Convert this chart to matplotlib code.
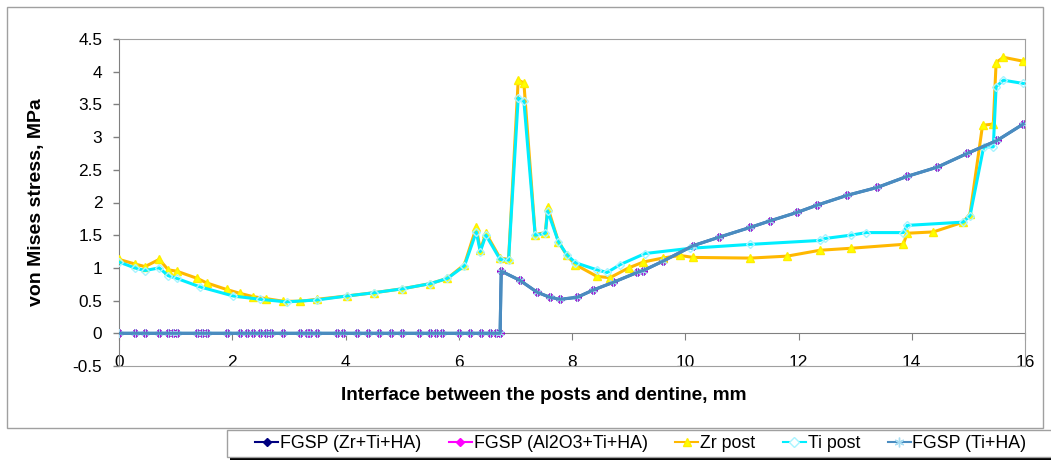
import matplotlib.pyplot as plt
from matplotlib.lines import Line2D
from matplotlib.patches import Rectangle

plt.rcParams['font.family'] = ['Liberation Sans', 'DejaVu Sans']

# Zr post
zr_x = [0.0, 0.28, 0.46, 0.71, 0.87, 1.02, 1.38, 1.55, 1.9, 2.14, 2.37, 2.6, 2.9, 3.2,
        3.5, 4.02, 4.5, 5.0, 5.5, 5.8, 6.1, 6.31, 6.38, 6.48, 6.73, 6.88, 7.05, 7.15,
        7.35, 7.53, 7.57, 7.76, 7.91, 8.06, 8.44, 8.67, 9.0, 9.26, 9.6, 9.91, 10.14,
        11.15, 11.8, 12.38, 12.92, 13.85, 13.92, 14.38, 14.91, 15.03, 15.25, 15.44,
        15.49, 15.62, 15.97]
zr_y = [1.13, 1.06, 1.02, 1.13, 0.97, 0.95, 0.84, 0.77, 0.67, 0.61, 0.56, 0.53, 0.49, 0.49,
        0.52, 0.57, 0.62, 0.68, 0.76, 0.84, 1.05, 1.62, 1.27, 1.53, 1.15, 1.13, 3.87, 3.83,
        1.51, 1.54, 1.93, 1.40, 1.19, 1.05, 0.87, 0.85, 1.00, 1.09, 1.15, 1.19, 1.16,
        1.15, 1.18, 1.27, 1.30, 1.36, 1.53, 1.55, 1.70, 1.83, 3.18, 3.20,
        4.14, 4.22, 4.16]

# Ti post
ti_x = [0.0, 0.28, 0.46, 0.71, 0.87, 1.02, 1.43, 2.02, 2.49, 2.96, 3.5, 4.02, 4.5, 5.0,
        5.5, 5.8, 6.1, 6.31, 6.38, 6.48, 6.73, 6.88, 7.05, 7.15, 7.35, 7.53, 7.57, 7.76,
        7.91, 8.06, 8.44, 8.62, 8.85, 9.29, 10.09, 11.15, 12.38, 12.47, 12.92, 13.2,
        13.85, 13.92, 14.91, 15.03, 15.27, 15.44, 15.49, 15.62, 15.97]
ti_y = [1.09, 1.00, 0.96, 1.00, 0.88, 0.84, 0.71, 0.57, 0.52, 0.48, 0.51, 0.57, 0.62, 0.68,
        0.76, 0.84, 1.03, 1.55, 1.25, 1.50, 1.13, 1.12, 3.60, 3.55, 1.50, 1.53, 1.87, 1.40,
        1.20, 1.08, 0.97, 0.93, 1.05, 1.22, 1.30, 1.36, 1.42, 1.45, 1.50, 1.54,
        1.54, 1.65, 1.70, 1.80, 2.85, 2.85, 3.77, 3.87, 3.82]

# FGSP (the three graded posts give practically the same curve)
fgsp_x = [0.0, 0.28, 0.46, 0.71, 0.87, 0.95, 1.02, 1.38, 1.47, 1.55, 1.9, 2.14, 2.26, 2.37,
          2.49, 2.6, 2.69, 2.9, 3.2, 3.32, 3.37, 3.5, 3.85, 3.96, 4.2, 4.4, 4.6, 4.8, 5.0,
          5.3, 5.5, 5.6, 5.7, 6.0, 6.2, 6.4, 6.55, 6.65, 6.73, 6.75, 7.08, 7.38, 7.61,
          7.79, 8.09, 8.37, 8.73, 9.15, 9.26, 9.6, 10.14, 10.6, 11.15, 11.5, 11.98, 12.33,
          12.86, 13.39, 13.92, 14.45, 14.98, 15.51, 15.97]
fgsp_y = [0, 0, 0, 0, 0, 0, 0, 0, 0, 0, 0, 0, 0, 0,
          0, 0, 0, 0, 0, 0, 0, 0, 0, 0, 0, 0, 0, 0, 0,
          0, 0, 0, 0, 0, 0, 0, 0, 0, 0, 0.95, 0.81, 0.63, 0.55,
          0.52, 0.55, 0.66, 0.78, 0.93, 0.96, 1.10, 1.34, 1.47, 1.62, 1.72, 1.85, 1.96,
          2.11, 2.23, 2.40, 2.54, 2.75, 2.95, 3.20]

labels = ['FGSP (Zr+Ti+HA)', 'FGSP (Al2O3+Ti+HA)', 'Zr post', 'Ti post', 'FGSP (Ti+HA)']

W, H = 1051, 463
fig = plt.figure(figsize=(W / 100, H / 100), dpi=100)

# chart border
fig.patches.append(Rectangle((7 / W, 1 - 428 / H), 1036 / W, 421 / H,
                             transform=fig.transFigure, fill=False,
                             edgecolor='#a0a0a0', lw=1, zorder=0))
# legend box with its black shadow
fig.patches.append(Rectangle((230 / W, 1 - 460 / H), 840 / W, 27 / H,
                             transform=fig.transFigure, facecolor='black',
                             edgecolor='none', zorder=1))
fig.patches.append(Rectangle((227 / W, 1 - 457 / H), 840 / W, 27 / H,
                             transform=fig.transFigure, facecolor='white',
                             edgecolor='#a0a0a0', lw=1, zorder=1.1))

ax = fig.add_axes([119 / W, 1 - 366 / H, 906 / W, 327 / H])

ax.plot(fgsp_x, fgsp_y, color='#000080', lw=1.5, marker='D', ms=4,
        mfc='#000080', mec='#000080', zorder=2)
ax.plot(fgsp_x, fgsp_y, color='#ff00ff', lw=1.5, marker='D', ms=4,
        mfc='#ff00ff', mec='#ff00ff', alpha=0.55, zorder=2.1)
ax.plot(zr_x, zr_y, color='#ffb800', lw=2.2, marker='^', ms=5.5,
        mfc='#ffff00', mec='#ffee00', zorder=3)
ax.plot(ti_x, ti_y, color='#00eeff', lw=2.2, marker='D', ms=4.5,
        mfc='none', mec='#a8f4ff', zorder=4)
ax.plot(fgsp_x, fgsp_y, color='#4a8cc0', lw=2.2, marker=(6, 2, 0), ms=6,
        mec='#a8dcf2', mew=0.8, zorder=5)
ax.plot(fgsp_x, fgsp_y, color='#4a8cc0', lw=2.2, zorder=5.1)

ax.set_xlim(0, 16)
ax.set_ylim(-0.5, 4.5)
ax.set_xticks(range(0, 17, 2))
ax.set_yticks([-0.5, 0, 0.5, 1, 1.5, 2, 2.5, 3, 3.5, 4, 4.5])
ax.set_yticklabels(['-0.5', '0', '0.5', '1', '1.5', '2', '2.5', '3', '3.5', '4', '4.5'])

for s in ['top', 'right', 'bottom']:
    ax.spines[s].set_color('#a0a0a0')
ax.spines['left'].set_color('#808080')
ax.tick_params(axis='y', direction='out', length=4, width=1, color='#808080',
               labelsize=12.4, pad=8)
ax.tick_params(axis='x', length=0, labelsize=12.4, pad=-8)

# horizontal axis crossing at zero
zero_axis = ax.secondary_xaxis(0.1)
zero_axis.set_xticks(range(0, 17, 2))
zero_axis.set_xticklabels([])
zero_axis.tick_params(direction='out', length=5, color='#808080')
zero_axis.spines['bottom'].set_color('#808080')

ax.set_ylabel('von Mises stress, MPa', fontsize=14, fontweight='bold')
ax.yaxis.set_label_coords(-0.082, 0.5)
ax.set_xlabel('Interface between the posts and dentine, mm', fontsize=13.7, fontweight='bold')
ax.xaxis.set_label_coords(0.469, -0.065)

h1 = Line2D([], [], color='#000080', marker='D', ms=4)
h2 = Line2D([], [], color='#ff00ff', marker='D', ms=4)
h3 = Line2D([], [], color='#ffb800', marker='^', ms=6, mfc='#ffff00', mec='#ffee00')
h4 = Line2D([], [], color='#00eeff', marker='D', ms=5, mfc='white', mec='#a8f4ff')
h5 = Line2D([], [], color='#4a8cc0', marker=(6, 2, 0), ms=7, mec='#a8dcf2')
leg = fig.legend([h1, h2, h3, h4, h5], labels, loc='center left',
                 bbox_to_anchor=(255 / W, 1 - 443.5 / H), ncol=5, fontsize=12.8,
                 frameon=False, borderpad=0, handlelength=1.3, handletextpad=0.1,
                 columnspacing=1.55, borderaxespad=0)
leg.set_zorder(3)

fig.savefig('out.png', dpi=100)
